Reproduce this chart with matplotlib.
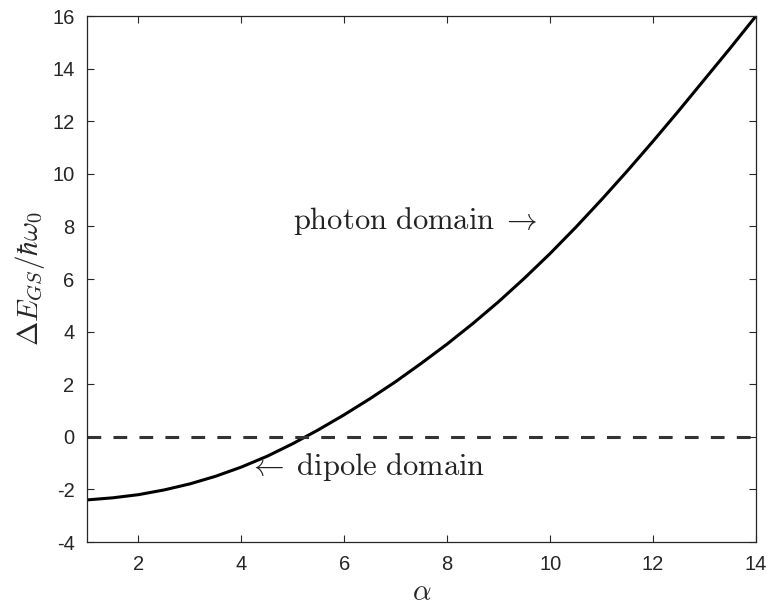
import numpy as np
import matplotlib.pyplot as plt

plt.rcParams['mathtext.fontset'] = 'cm'
plt.rcParams['font.family'] = ['Liberation Sans', 'DejaVu Sans']
plt.rcParams['axes.unicode_minus'] = False

# energia del estado fundamental vs alpha
alpha = [1.0, 1.5, 2.0, 2.5, 3.0, 3.5, 4.0, 4.5, 5.0, 5.5, 6.0, 6.5, 7.0,
         7.5, 8.0, 8.5, 9.0, 9.5, 10.0, 10.5, 11.0, 11.5, 12.0, 12.5,
         13.0, 13.5, 14.0]
dE = [-2.40, -2.32, -2.20, -2.02, -1.79, -1.50, -1.15, -0.74, -0.26, 0.27,
      0.84, 1.45, 2.10, 2.80, 3.53, 4.31, 5.14, 6.03, 6.97, 7.97, 9.02,
      10.11, 11.24, 12.40, 13.59, 14.78, 16.0]

xticks = [2, 4, 6, 8, 10, 12, 14]
yticks = [-4, -2, 0, 2, 4, 6, 8, 10, 12, 14, 16]

col = '#262626'

fig = plt.figure(figsize=(7.67, 6.07), dpi=100)
ax = fig.add_axes([87/767, 1 - 542/607, (756-87)/767, (542-16)/607])

ax.plot(alpha, dE, color='k', lw=2.2)
ax.axhline(0, color='#333333', lw=2.2, dashes=(4.5, 4.0))

ax.text(5.0, 8.2, r'$\mathrm{photon\ domain}\;\rightarrow$', fontsize=22,
        va='center', ha='left', color='#222222')
ax.text(4.13, -1.15, r'$\leftarrow\;\mathrm{dipole\ domain}$', fontsize=22,
        va='center', ha='left', color='#222222')

ax.set_xlim(1, 14)
ax.set_ylim(-4, 16)
ax.set_xticks(xticks)
ax.set_yticks(yticks)
ax.tick_params(direction='in', top=True, right=True, length=5, width=0.8,
               colors=col, labelsize=14.5, pad=9)
for s in ax.spines.values():
    s.set_color(col)
    s.set_linewidth(0.9)

ax.set_xlabel(r'$\alpha$', fontsize=21, color=col, labelpad=3)
ax.set_ylabel(r'$\Delta E_{GS}/\hbar\omega_0$', fontsize=21, color=col, labelpad=4)

plt.savefig('out.png', dpi=100)
